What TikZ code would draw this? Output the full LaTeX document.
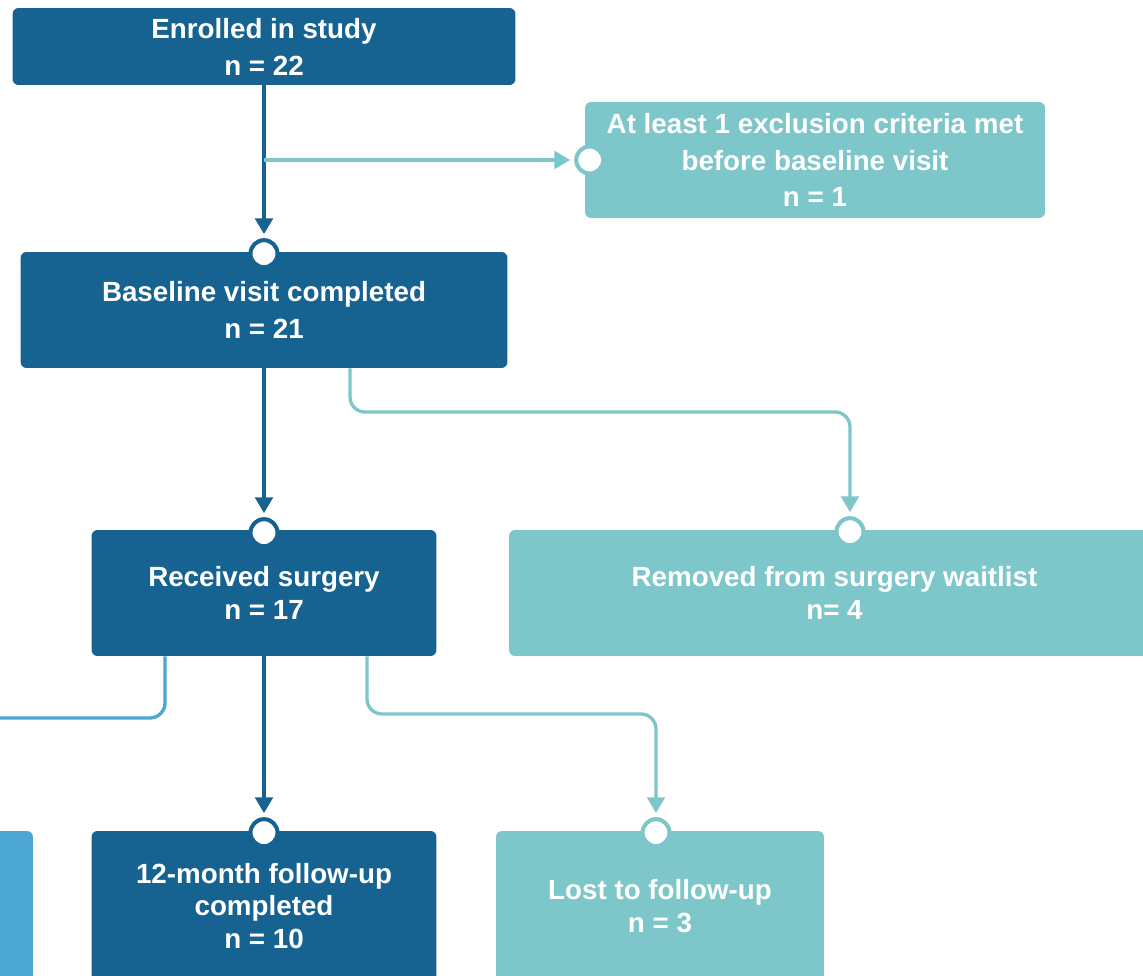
\documentclass[tikz,border=0pt]{standalone}
\usepackage{fontspec}
\setmainfont{Liberation Sans}
\usetikzlibrary{arrows.meta}
\definecolor{flowdark}{RGB}{22,98,145}
\definecolor{flowteal}{RGB}{125,198,201}
\definecolor{flowlight}{RGB}{76,166,212}
\tikzset{
  box/.style={rounded corners=0.12cm, text=white, align=center, inner sep=0pt,
    font=\fontsize{15.8}{21}\selectfont\bfseries},
  tight/.style={font=\fontsize{15.8}{18.5}\selectfont\bfseries},
  darkbox/.style={box, fill=flowdark},
  tealbox/.style={box, fill=flowteal},
  lightbox/.style={box, fill=flowlight},
  port/.style={circle, fill=white, draw=#1, line width=2.3pt, minimum size=0.54cm, inner sep=0pt},
  darkline/.style={draw=flowdark, line width=2.1pt, shorten >=0.08cm},
  tealline/.style={draw=flowteal, line width=1.9pt, shorten >=0.08cm},
  lightline/.style={draw=flowlight, line width=1.9pt}
}
\begin{document}
\begin{tikzpicture}[x=0.02cm, y=-0.02cm, line join=round, >={Triangle[width=10pt,length=9pt]}]
	\useasboundingbox (0,0) rectangle (1143,976);
	\clip (0,0) rectangle (1143,976);
	% boxes
	\node[darkbox, minimum width=10.06cm, minimum height=1.54cm] (enrol) at (264,46.5) {Enrolled in study\\n = 22};
	\node[tealbox, minimum width=9.2cm, minimum height=2.32cm] (excl) at (815,160) {At least 1 exclusion criteria met\\before baseline visit\\n = 1};
	\node[darkbox, minimum width=9.74cm, minimum height=2.32cm] (base) at (264,310) {Baseline visit completed\\n = 21};
	\node[darkbox, tight, minimum width=6.9cm, minimum height=2.52cm] (surg) at (264,593) {Received surgery\\n = 17};
	\node[tealbox, tight, minimum width=13.02cm, minimum height=2.52cm] (waitl) at (834.5,593) {Removed from surgery waitlist\\n= 4};
	\node[lightbox, minimum width=6.66cm, minimum height=3cm] (other) at (-133.5,906) {};
	\node[darkbox, tight, minimum width=6.9cm, minimum height=3cm] (fu12) at (264,906) {12-month follow-up\\completed\\n = 10};
	\node[tealbox, tight, minimum width=6.56cm, minimum height=3cm] (lost) at (660,906) {Lost to follow-up\\n = 3};
	% ports
	\node[port=flowteal] (pexcl) at ([xshift=0.1cm]excl.west) {};
	\node[port=flowdark] (pbase) at ([yshift=-0.04cm]base.north) {};
	\node[port=flowdark] (psurg) at ([yshift=-0.06cm]surg.north) {};
	\node[port=flowteal] (pwait) at ([yshift=-0.04cm]waitl.north -| 850,0) {};
	\node[port=flowdark] (pfu12) at ([yshift=-0.04cm]fu12.north) {};
	\node[port=flowteal] (plost) at ([yshift=-0.04cm]lost.north -| 656,0) {};
	% connectors
	\coordinate (split) at (264,160);
	\coordinate (offl) at (-20,718);
	\draw[darkline,->] (enrol.south) -- (pbase);
	\draw[tealline,->] (split) -- (pexcl);
	\draw[darkline,->] (base.south) -- (psurg);
	\draw[tealline,->,rounded corners=0.3cm] (base.south -| 350,0) |- (850,412) -- (pwait);
	\draw[darkline,->] (surg.south) -- (pfu12);
	\draw[tealline,->,rounded corners=0.3cm] (surg.south -| 367,0) |- (656,714) -- (plost);
	\draw[lightline,rounded corners=0.3cm] (surg.south -| 165,0) |- (offl);
\end{tikzpicture}
\end{document}
